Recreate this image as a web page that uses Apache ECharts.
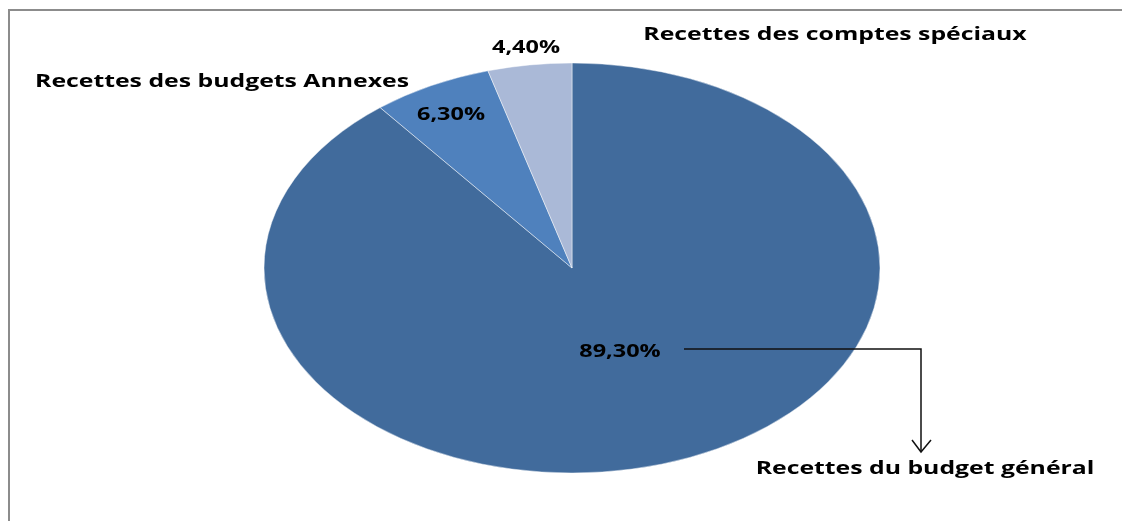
<!DOCTYPE html>
<html>
<head>
<meta charset="utf-8">
<script src="https://cdn.jsdelivr.net/npm/echarts@6/dist/echarts.min.js"></script>
<style>
    html, body { margin: 0; padding: 0; background: #fff; }
    #main { width: 1122px; height: 521px; }
</style>
</head>
<body>
<div id="main"></div>
<script>
"use strict";

// 数据（顺时针，从 12 点开始）
let categories = ["Recettes du budget général", "Recettes des budgets Annexes", "Recettes des comptes spéciaux"];
let shares = [89.3, 6.3, 4.4];
let colors = ['#416B9C', '#4F81BD', '#AAB9D7'];

// 椭圆饼图参数（Excel 风格的拉伸饼图）
let cx = 572, cy = 268;
let radius = 308;
let squash = 205 / 308;

let total = shares.reduce((a, b) => a + b, 0);
let starts = [];
let acc = 0;
shares.forEach((v) => { starts.push(acc); acc += v; });

function fmt(v) {
    return v.toFixed(2).replace('.', ',') + '%';
}

// 文字（原图文字被横向拉伸）
function label(text, x, y, size) {
    return {
        type: 'text',
        x: x, y: y,
        scaleX: 1.34,
        z: 100,
        style: {
            text: text,
            fontSize: size,
            fontFamily: 'Open Sans',
            fontWeight: 'bold',
            fill: '#000',
            align: 'center',
            verticalAlign: 'middle'
        }
    };
}

let myChart = echarts.init(document.getElementById('main'));

let option = {
    backgroundColor: '#fff',
    animation: false,
    series: [
        {
            type: 'custom',
            coordinateSystem: 'none',
            z: 2,
            data: shares.map((v, i) => [v, i]),
            renderItem: function (params, api) {
                let i = params.dataIndex;
                let a0 = -Math.PI / 2 + starts[i] / total * Math.PI * 2;
                let a1 = a0 + api.value(0) / total * Math.PI * 2;
                return {
                    type: 'sector',
                    originX: cx,
                    originY: cy,
                    scaleY: squash,
                    shape: {
                        cx: cx, cy: cy, r0: 0, r: radius,
                        startAngle: a0, endAngle: a1, clockwise: true
                    },
                    style: {
                        fill: colors[i],
                        stroke: 'rgba(255,255,255,0.55)',
                        lineWidth: 1,
                        strokeNoScale: true
                    }
                };
            }
        }
    ],
    graphic: [
        { // 外框
            type: 'rect',
            shape: { x: 9, y: 10, width: 1300, height: 700 },
            style: { fill: null, stroke: '#8c8c8c', lineWidth: 2 },
            silent: true,
            z: 100
        },
        // 百分比标签
        label(fmt(shares[0]), 620, 352, 17.5),
        label(fmt(shares[1]), 451, 115, 17.5),
        label(fmt(shares[2]), 526, 48, 17.5),
        // 类别名称
        label(categories[2], 835, 35, 18.5),
        label(categories[1], 222, 82, 18.5),
        label(categories[0], 925, 469, 18.5),
        // 引导线与箭头
        {
            type: 'polyline',
            z: 100,
            shape: { points: [[684, 349], [921, 349], [921, 452]] },
            style: { fill: null, stroke: '#111', lineWidth: 1.5 }
        },
        {
            type: 'polyline',
            z: 100,
            shape: { points: [[912, 440], [921, 452], [931, 440]] },
            style: { fill: null, stroke: '#111', lineWidth: 1.5 }
        }
    ]
};

myChart.setOption(option);
</script>
</body>
</html>
